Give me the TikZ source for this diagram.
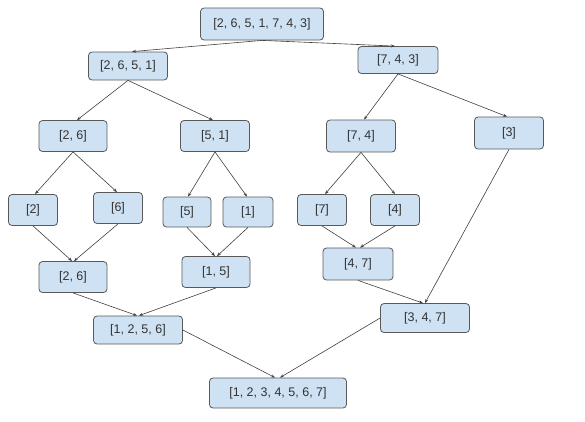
\documentclass[tikz,border=0pt]{standalone}
\usepackage{fontspec}
\setmainfont{Liberation Sans}
\usetikzlibrary{arrows.meta}
\definecolor{boxfill}{HTML}{CFE2F3}
\definecolor{boxline}{HTML}{595959}
\definecolor{arr}{HTML}{404040}
\begin{document}
\begin{tikzpicture}[x=1pt,y=-1pt,
  box/.style={draw=boxline,fill=boxfill,rounded corners=3.5pt,line width=0.8pt,
    inner sep=0pt,font=\fontsize{12.5}{15}\selectfont,text=black!80},
  conn/.style={draw=arr,line width=0.6pt,-{Stealth[length=4pt,width=3pt]}}]
\useasboundingbox (0,0) rectangle (585,421);
% row 0
\node[box,minimum width=123pt,minimum height=32pt] (a) at (262,24) {[2, 6, 5, 1, 7, 4, 3]};
% row 1
\node[box,minimum width=79pt,minimum height=28pt] (b1) at (128,66) {[2, 6, 5, 1]};
\node[box,minimum width=80pt,minimum height=27pt] (b2) at (398,60) {[7, 4, 3]};
% row 2
\node[box,minimum width=68pt,minimum height=31pt] (c1) at (73,136) {[2, 6]};
\node[box,minimum width=69pt,minimum height=31pt] (c2) at (215,136) {[5, 1]};
\node[box,minimum width=69pt,minimum height=32pt] (c3) at (361,136) {[7, 4]};
\node[box,minimum width=69pt,minimum height=32pt] (c4) at (509,133) {[3]};
% row 3
\node[box,minimum width=49pt,minimum height=31pt] (d1) at (33,210) {[2]};
\node[box,minimum width=49pt,minimum height=31pt] (d2) at (118,208) {[6]};
\node[box,minimum width=48pt,minimum height=30pt] (d3) at (187,212) {[5]};
\node[box,minimum width=50pt,minimum height=30pt] (d4) at (248,212) {[1]};
\node[box,minimum width=49pt,minimum height=31pt] (d5) at (322,210) {[7]};
\node[box,minimum width=49pt,minimum height=31pt] (d6) at (395,210) {[4]};
% row 4
\node[box,minimum width=68pt,minimum height=31pt] (e1) at (73,277) {[2, 6]};
\node[box,minimum width=68pt,minimum height=31pt] (e2) at (216,272) {[1, 5]};
\node[box,minimum width=70pt,minimum height=32pt] (e3) at (358,264) {[4, 7]};
% row 5
\node[box,minimum width=89pt,minimum height=28pt] (f1) at (138,330) {[1, 2, 5, 6]};
\node[box,minimum width=89pt,minimum height=29pt] (f2) at (425,318) {[3, 4, 7]};
% final
\node[box,minimum width=137pt,minimum height=30pt] (g) at (278,393) {[1, 2, 3, 4, 5, 6, 7]};
% connectors
\draw[conn] (a.south) -- ([xshift=4pt]b1.north);
\draw[conn] (a.south) -- ([xshift=-3pt]b2.north);
\draw[conn] (b1.south) -- ([xshift=4pt]c1.north);
\draw[conn] (b1.south) -- ([xshift=-2pt]c2.north);
\draw[conn] (b2.south) -- ([xshift=3pt]c3.north);
\draw[conn] (b2.south) -- ([xshift=-2pt]c4.north);
\draw[conn] (c1.south) -- ([xshift=2pt]d1.north);
\draw[conn] (c1.south) -- ([xshift=-1pt]d2.north);
\draw[conn] (c2.south) -- ([xshift=1pt]d3.north);
\draw[conn] (c2.south) -- ([xshift=-1pt]d4.north);
\draw[conn] (c3.south) -- ([xshift=3pt]d5.north);
\draw[conn] (c3.south) -- (d6.north);
\draw[conn] (d1.south) -- ([xshift=-1pt]e1.north);
\draw[conn] (d2.south) -- ([xshift=1pt]e1.north);
\draw[conn] (d3.south) -- ([xshift=-1pt]e2.north);
\draw[conn] (d4.south) -- ([xshift=1pt]e2.north);
\draw[conn] (d5.south) -- ([xshift=-2pt]e3.north);
\draw[conn] (d6.south) -- ([xshift=2pt]e3.north);
\draw[conn] (e1.south) -- ([xshift=-1pt]f1.north);
\draw[conn] (e2.south) -- ([xshift=1pt]f1.north);
\draw[conn] (e3.south) -- ([xshift=-2pt]f2.north);
\draw[conn] (c4.south) -- (f2.north);
\draw[conn] (f1.east) -- ([xshift=-3pt]g.north);
\draw[conn] (f2.west) -- ([xshift=2pt]g.north);
\end{tikzpicture}
\end{document}
